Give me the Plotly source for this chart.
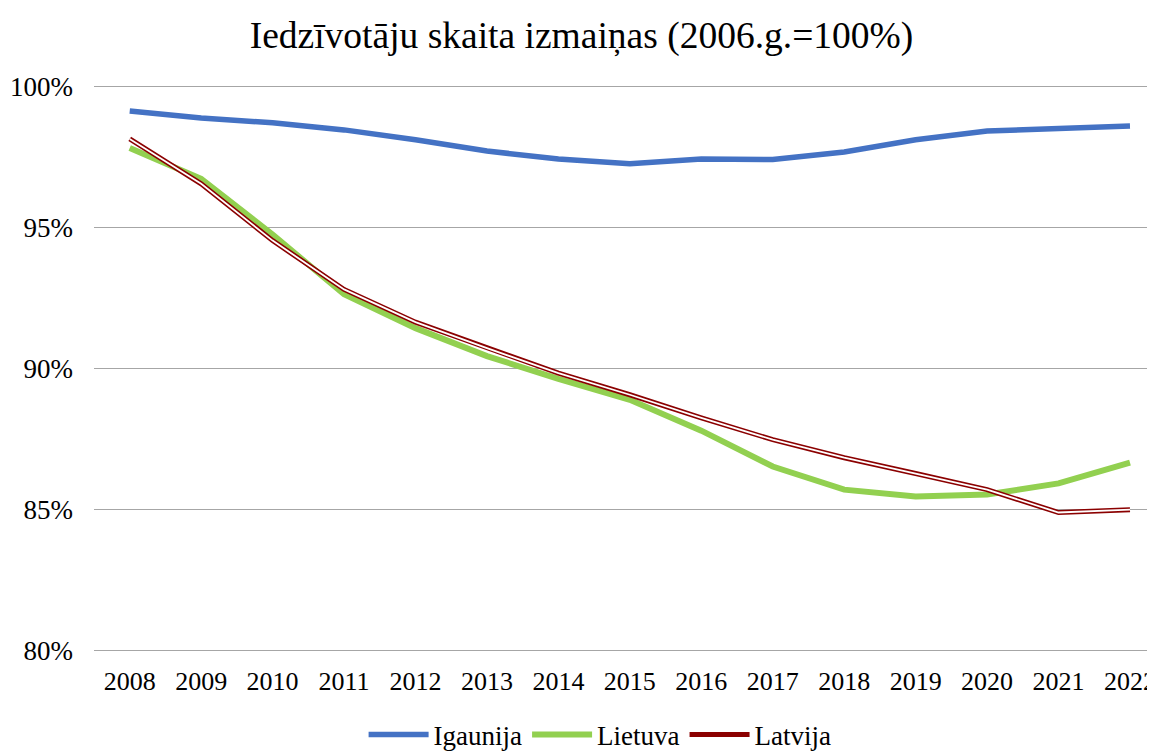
import plotly.graph_objects as go

years = ["2008", "2009", "2010", "2011", "2012", "2013", "2014", "2015",
         "2016", "2017", "2018", "2019", "2020", "2021", "2022"]
igaunija = [99.12, 98.87, 98.70, 98.45, 98.10, 97.70, 97.42, 97.25,
            97.42, 97.40, 97.67, 98.10, 98.41, 98.48, 98.59]
lietuva = [97.81, 96.72, 94.74, 92.63, 91.43, 90.44, 89.63, 88.89,
           87.80, 86.53, 85.71, 85.47, 85.54, 85.93, 86.67]
latvija = [98.13, 96.54, 94.53, 92.80, 91.64, 90.72, 89.84, 89.07,
           88.25, 87.48, 86.84, 86.28, 85.71, 84.90, 85.00]

xi = list(range(len(years)))
font = "Liberation Serif"

fig = go.Figure()
fig.add_trace(go.Scatter(x=xi, y=igaunija, name="Igaunija", mode="lines",
                         line=dict(color="#4472C4", width=5.5)))
fig.add_trace(go.Scatter(x=xi, y=lietuva, name="Lietuva", mode="lines",
                         line=dict(color="#92D050", width=6)))
fig.add_trace(go.Scatter(x=xi, y=latvija, name="Latvija", mode="lines",
                         line=dict(color="#8B0000", width=5)))
fig.add_trace(go.Scatter(x=xi, y=latvija, name="Latvija", mode="lines",
                         showlegend=False, hoverinfo="skip",
                         line=dict(color="#FFFFFF", width=1.8)))

fig.update_layout(
    width=1147, height=743,
    margin=dict(l=86, r=0, t=77, b=99, autoexpand=False),
    paper_bgcolor="white", plot_bgcolor="white",
    font=dict(family=font, size=26, color="#000000"),
    title=dict(text="Iedzīvotāju skaita izmaiņas (2006.g.=100%)",
               x=0.5, xanchor="center", y=0.964, yanchor="middle",
               font=dict(family=font, size=37.5, color="#000000")),
    xaxis=dict(tickmode="array", tickvals=xi, ticktext=years,
               range=[-0.5, 14.35], showgrid=False, zeroline=False,
               showline=False, ticks="", ticklabelstandoff=11,
               ticklabeloverflow="allow", automargin=False,
               tickfont=dict(family=font, size=26, color="#000000")),
    yaxis=dict(range=[79.96, 100.04], tickvals=[80, 85, 90, 95, 100],
               ticktext=["80%", "85%", "90%", "95%", "100%"],
               showgrid=True, gridcolor="#A6A6A6", gridwidth=1.3,
               zeroline=False, showline=False, ticks="",
               ticklabelstandoff=20, automargin=False,
               tickfont=dict(family=font, size=27, color="#000000")),
    legend=dict(orientation="h", x=0.477, xanchor="center",
                yref="container", y=0.0215, yanchor="middle",
                itemwidth=60, traceorder="normal",
                font=dict(family=font, size=27, color="#000000")),
    showlegend=True,
)

fig.write_html("out.html")
